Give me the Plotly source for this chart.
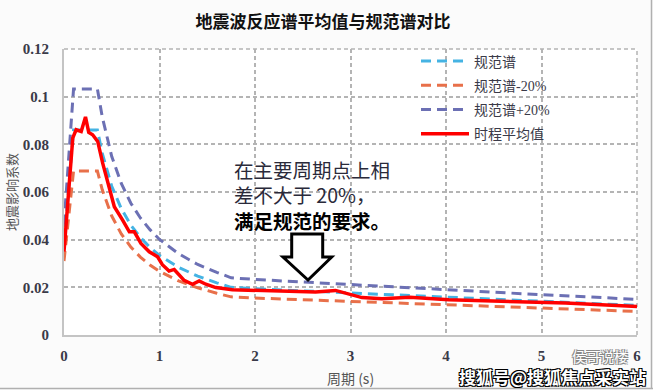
import plotly.graph_objects as go

# ---------------- data ----------------
period_code = [0.0, 0.1, 0.35, 0.4, 0.5, 0.6, 0.7, 0.8, 0.9, 1.0, 1.2, 1.4, 1.6, 1.75,
               2.0, 2.5, 3.0, 3.5, 4.0, 4.5, 5.0, 5.5, 6.0]
code_spec = [0.0387, 0.086, 0.086, 0.0763, 0.0624, 0.053, 0.0461, 0.0409, 0.0368, 0.0334,
             0.0284, 0.0247, 0.0219, 0.0200, 0.0194, 0.0185, 0.0176, 0.0167, 0.0158,
             0.0150, 0.0141, 0.0133, 0.0124]
code_minus20 = [0.031, 0.0688, 0.0688, 0.061, 0.0499, 0.0424, 0.0369, 0.0327, 0.0294, 0.0267,
                0.0227, 0.0198, 0.0175, 0.016, 0.0155, 0.0148, 0.0141, 0.0134, 0.0126,
                0.012, 0.0113, 0.0106, 0.0099]
code_plus20 = [0.0464, 0.1032, 0.1032, 0.0916, 0.0749, 0.0636, 0.0553, 0.0491, 0.0442, 0.0401,
               0.0341, 0.0296, 0.0263, 0.024, 0.0233, 0.0222, 0.0211, 0.02, 0.019, 0.018,
               0.0169, 0.016, 0.0149]

period_avg = [0.0, 0.057, 0.092, 0.127, 0.18, 0.225, 0.259, 0.30, 0.353, 0.405, 0.475, 0.527,
              0.614, 0.684, 0.736, 0.806, 0.893, 0.98, 1.03, 1.10, 1.154, 1.258, 1.345, 1.415,
              1.485, 1.59, 1.763, 2.007, 2.355, 2.634, 2.843, 2.98, 3.12, 3.33, 3.62, 4.03,
              4.64, 5.25, 6.0]
avg_spec = [0.035, 0.065, 0.0827, 0.0861, 0.0854, 0.0915, 0.085, 0.084, 0.0812, 0.0721, 0.0608,
            0.0538, 0.0482, 0.0433, 0.0433, 0.0384, 0.0349, 0.0328, 0.0295, 0.0268, 0.0275,
            0.0229, 0.0213, 0.0227, 0.0213, 0.0199, 0.019, 0.0187, 0.0184, 0.018, 0.0187,
            0.0173, 0.0157, 0.0152, 0.0158, 0.0148, 0.0142, 0.0134, 0.012]

series_names = ["规范谱", "规范谱-20%", "规范谱+20%", "时程平均值"]
title_text = "地震波反应谱平均值与规范谱对比"
x_title = "周期 (s)"
y_title = "地震影响系数"
note_lines = ["在主要周期点上相", "差不大于 20%，", "满足规范的要求。"]

# ---------------- figure ----------------
W, H = 653, 390
ML, MR, MT, MB = 64, 16, 49, 55
PW, PH = W - ML - MR, H - MT - MB


def px(xp):
    return (xp - ML) / PW


def py(yp):
    return (H - MB - yp) / PH


SERIF = "Liberation Serif, Noto Sans CJK SC, serif"
CJK = "Noto Sans CJK SC, sans-serif"

fig = go.Figure()
dash = "10px,6px"
fig.add_trace(go.Scatter(x=period_code, y=code_spec, mode="lines", name=series_names[0],
                         legendgroup="a",
                         line=dict(color="#45b3e3", width=3, dash=dash)))
fig.add_trace(go.Scatter(x=period_code, y=code_minus20, mode="lines", name=series_names[1],
                         legendgroup="b",
                         line=dict(color="#e8704a", width=3, dash=dash)))
fig.add_trace(go.Scatter(x=period_code, y=code_plus20, mode="lines", name=series_names[2],
                         legendgroup="c",
                         line=dict(color="#6c70b4", width=3, dash=dash)))
fig.add_trace(go.Scatter(x=period_avg, y=avg_spec, mode="lines", name=series_names[3],
                         legendgroup="d",
                         line=dict(color="#ff0000", width=3.5)))

grid = dict(showgrid=True, gridcolor="#b4b4b4", griddash="4px,3px", gridwidth=1.5,
            showline=True, linecolor="#c4c4c4", linewidth=2, zeroline=False,
            ticks="", tickfont=dict(family=SERIF, size=15, color="#3a3a48", weight="bold"))

fig.update_xaxes(range=[0, 6], dtick=1, ticklabelstandoff=6, **grid)
fig.update_yaxes(range=[0, 0.12], dtick=0.02, ticklabelstandoff=10, **grid)

note_text = (f"<span style='color:#2a2a3a'>{note_lines[0]}</span><br>"
             f"<span style='color:#2a2a3a'>{note_lines[1]}</span><br>"
             f"<b>{note_lines[2]}</b>")

annotations = [
    dict(text=y_title, xref="paper", yref="paper", x=px(11), y=py(192), textangle=-90,
         xanchor="center", yanchor="middle",
         showarrow=False, font=dict(family=CJK, size=13, color="#555555")),
    dict(text=x_title, xref="paper", yref="paper", x=px(350), y=py(378),
         xanchor="center", yanchor="middle",
         showarrow=False, font=dict(family=CJK, size=14, color="#555555")),
    dict(text=note_text, xref="paper", yref="paper", x=px(232), y=py(194.5),
         xanchor="left", yanchor="middle", align="left", showarrow=False,
         font=dict(family=CJK, size=19.5, color="#000000")),
]
outline = "1px 1px 0 #000, -1px -1px 0 #000, 1px -1px 0 #000, -1px 1px 0 #000"
annotations.append(dict(text="搜狐号@搜狐焦点采实站", xref="paper", yref="paper",
                        x=px(648), y=py(376), xanchor="right", yanchor="middle",
                        showarrow=False,
                        font=dict(family=CJK, size=17, color="#ffffff", weight="bold",
                                  shadow=outline)))
annotations.append(dict(text="侯哥说楼", xref="paper", yref="paper",
                        x=px(630), y=py(356), xanchor="right", yanchor="middle",
                        showarrow=False,
                        font=dict(family=CJK, size=14, color="#ffffff",
                                  shadow="1px 1px 0 #888, -1px -1px 0 #888, 1px -1px 0 #888, -1px 1px 0 #888")))

# hollow down arrow (decoration)
ax = [px(291.7), px(322.7), px(283), px(331.7), px(308)]
ay = [py(234), py(257), py(280)]
arrow_path = (f"M {ax[0]},{ay[0]} L {ax[1]},{ay[0]} L {ax[1]},{ay[1]} L {ax[3]},{ay[1]} "
              f"L {ax[4]},{ay[2]} L {ax[2]},{ay[1]} L {ax[0]},{ay[1]} Z")
shapes = [
    dict(type="line", xref="paper", yref="paper", x0=0, x1=1, y0=1, y1=1,
         line=dict(color="#b4b4b4", width=1.5, dash="4px,3px"), layer="below"),
    dict(type="line", xref="paper", yref="paper", x0=1, x1=1, y0=0, y1=1,
         line=dict(color="#b4b4b4", width=1.5, dash="4px,3px"), layer="below"),
    dict(type="path", xref="paper", yref="paper", path=arrow_path,
         fillcolor="#ffffff", line=dict(color="#000000", width=3)),
    dict(type="line", xref="paper", yref="paper", x0=px(0), x1=px(653), y0=py(388.5), y1=py(388.5),
         line=dict(color="#b0b0b0", width=1.5)),
    dict(type="line", xref="paper", yref="paper", x0=px(651.5), x1=px(651.5), y0=py(0), y1=py(389),
         line=dict(color="#b0b0b0", width=1.5)),
]

fig.update_layout(
    width=W, height=H,
    margin=dict(l=ML, r=MR, t=MT, b=MB),
    paper_bgcolor="#fbfbfb", plot_bgcolor="#ffffff",
    title=dict(text=f"<b>{title_text}</b>", x=323 / W, y=1 - 22 / H, xanchor="center",
               yanchor="middle", font=dict(family=CJK, size=17, color="#111111")),
    legend=dict(x=px(416), y=py(45.5), xanchor="left", yanchor="top",
                bgcolor="rgba(0,0,0,0)", borderwidth=0, traceorder="grouped",
                tracegroupgap=3, itemwidth=48,
                font=dict(family=SERIF, size=14, color="#3a3a48")),
    annotations=annotations,
    shapes=shapes,
    showlegend=True,
)

fig.write_html("out.html", config={"displayModeBar": False},
               post_script="document.body.style.margin='0';document.body.style.padding='0';")
